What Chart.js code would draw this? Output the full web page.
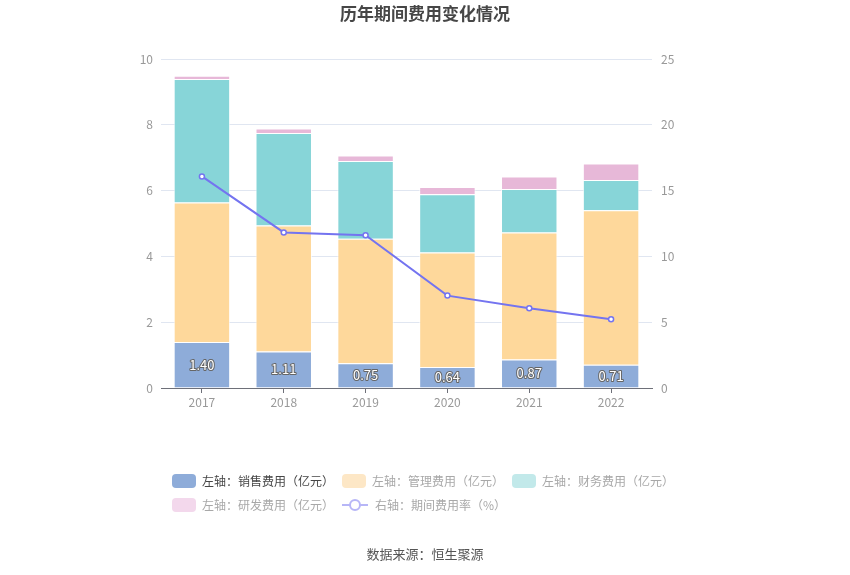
<!DOCTYPE html>
<html>
<head>
<meta charset="utf-8">
<script src="https://cdn.jsdelivr.net/npm/chart.js@4/dist/chart.umd.min.js"></script>
<style>
  html, body { margin: 0; padding: 0; background: #fff; }
  #wrap { position: relative; width: 850px; height: 575px; font-family: "Noto Sans CJK SC", "Noto Sans", sans-serif; }
  #c { position: absolute; left: 0; top: 0; }
  .title { position: absolute; left: 0; width: 850px; top: 0px; text-align: center; font-size: 17px; font-weight: bold; color: #464646; }
  .source { position: absolute; left: 0; width: 850px; top: 544px; text-align: center; font-size: 13px; color: #555; }
  .lg { position: absolute; font-size: 12px; line-height: 16px; white-space: nowrap; }
  .sw { position: absolute; width: 24px; height: 14px; border-radius: 4px; }
</style>
</head>
<body>
<div id="wrap">
  <canvas id="c" width="850" height="575"></canvas>
  <div class="title">历年期间费用变化情况</div>
  <div id="legend"></div>
  <div class="source">数据来源：恒生聚源</div>
</div>
<script>
const years = ['2017', '2018', '2019', '2020', '2021', '2022'];
const salesExp = [1.40, 1.11, 0.75, 0.64, 0.87, 0.71];
const adminExp = [4.24, 3.83, 3.79, 3.48, 3.86, 4.69];
const financeExp = [3.75, 2.81, 2.36, 1.77, 1.32, 0.92];
const rdExp = [0.10, 0.14, 0.17, 0.22, 0.38, 0.50];
const expenseRate = [16.08, 11.82, 11.61, 7.02, 6.06, 5.22];
const leftTicks = [0, 2, 4, 6, 8, 10];
const rightTicks = [0, 5, 10, 15, 20, 25];

const seriesNames = ['左轴：销售费用（亿元）', '左轴：管理费用（亿元）', '左轴：财务费用（亿元）', '左轴：研发费用（亿元）', '右轴：期间费用率（%）'];

// HTML legend
const legendItems = [
  { x: 172, y: 474, sw: '#8eacd9', text: seriesNames[0], tc: '#464646' },
  { x: 342, y: 474, sw: '#fde7c6', text: seriesNames[1], tc: '#a8a8a8' },
  { x: 512, y: 474, sw: '#c2e9ea', text: seriesNames[2], tc: '#a8a8a8' },
  { x: 172, y: 498, sw: '#f3d8ec', text: seriesNames[3], tc: '#a8a8a8' },
  { x: 342, y: 498, line: '#b7b6f7', text: seriesNames[4], tc: '#a8a8a8' }
];
const lg = document.getElementById('legend');
legendItems.forEach(it => {
  if (it.line) {
    const svg = document.createElementNS('http://www.w3.org/2000/svg', 'svg');
    svg.setAttribute('width', '26'); svg.setAttribute('height', '14');
    svg.style.position = 'absolute'; svg.style.left = it.x + 'px'; svg.style.top = it.y + 'px';
    svg.innerHTML = '<line x1="0" y1="7" x2="26" y2="7" stroke="' + it.line + '" stroke-width="2"/><circle cx="13" cy="7" r="5" fill="#fff" stroke="' + it.line + '" stroke-width="2"/>';
    lg.appendChild(svg);
  } else {
    const s = document.createElement('div');
    s.className = 'sw'; s.style.left = it.x + 'px'; s.style.top = it.y + 'px'; s.style.background = it.sw;
    lg.appendChild(s);
  }
  const t = document.createElement('div');
  t.className = 'lg'; t.style.left = (it.x + (it.line ? 33 : 30)) + 'px'; t.style.top = (it.y - 1) + 'px'; t.style.color = it.tc;
  t.textContent = it.text;
  lg.appendChild(t);
});

const labelPlugin = {
  id: 'barLabels',
  afterDatasetsDraw(chart) {
    const ctx = chart.ctx;
    const meta = chart.getDatasetMeta(1);
    ctx.save();
    ctx.font = '13px "Noto Sans CJK SC", sans-serif';
    ctx.textAlign = 'center';
    ctx.textBaseline = 'middle';
    ctx.lineJoin = 'round';
    meta.data.forEach((bar, i) => {
      const txt = salesExp[i].toFixed(2);
      const y = (bar.y + bar.base) / 2;
      ctx.lineWidth = 2;
      ctx.strokeStyle = '#666';
      ctx.strokeText(txt, bar.x, y);
      ctx.fillStyle = '#fff';
      ctx.fillText(txt, bar.x, y);
    });
    ctx.restore();
  }
};

const barCommon = { stack: 's', yAxisID: 'y', borderColor: 'rgba(255,255,255,0.7)', borderWidth: 1, barPercentage: 0.69, categoryPercentage: 1, order: 2 };

new Chart(document.getElementById('c'), {
  data: {
    labels: years,
    datasets: [
      { type: 'line', label: seriesNames[4], data: expenseRate, yAxisID: 'y1', borderColor: '#7474f0', backgroundColor: '#fff',
        borderWidth: 2, pointRadius: 2.5, pointBorderWidth: 1.5, pointBackgroundColor: '#fff', pointBorderColor: '#7474f0', tension: 0, order: 0 },
      Object.assign({ type: 'bar', label: seriesNames[0], data: salesExp, backgroundColor: '#8eacd9' }, barCommon),
      Object.assign({ type: 'bar', label: seriesNames[1], data: adminExp, backgroundColor: '#fed89b' }, barCommon),
      Object.assign({ type: 'bar', label: seriesNames[2], data: financeExp, backgroundColor: '#87d5d8' }, barCommon),
      Object.assign({ type: 'bar', label: seriesNames[3], data: rdExp, backgroundColor: '#e7b8d8' }, barCommon)
    ]
  },
  options: {
    responsive: false,
    animation: false,
    layout: { padding: { top: 59, left: 0, right: 0, bottom: 0 } },
    plugins: { legend: { display: false }, title: { display: false }, tooltip: { enabled: false } },
    scales: {
      x: {
        stacked: true,
        afterFit(s) { s.height = 187; },
        grid: { offset: false, drawOnChartArea: false, tickLength: 5, color: '#6e7079' },
        border: { color: '#6e7079', width: 1 },
        ticks: { color: '#999', font: { size: 12, family: '"Noto Sans CJK SC", sans-serif' }, padding: 2 }
      },
      y: {
        position: 'left', stacked: true, min: 0, max: 10,
        afterFit(s) { s.width = 161; },
        afterBuildTicks(s) { s.ticks = leftTicks.map(v => ({ value: v })); },
        grid: { color: '#e0e6f1', drawTicks: false },
        border: { display: false },
        ticks: { color: '#999', padding: 8, font: { size: 12, family: '"Noto Sans CJK SC", sans-serif' } }
      },
      y1: {
        position: 'right', min: 0, max: 25,
        afterFit(s) { s.width = 198; },
        afterBuildTicks(s) { s.ticks = rightTicks.map(v => ({ value: v })); },
        grid: { drawOnChartArea: false, drawTicks: false },
        border: { display: false },
        ticks: { color: '#999', padding: 9, font: { size: 12, family: '"Noto Sans CJK SC", sans-serif' } }
      }
    }
  },
  plugins: [labelPlugin]
});
</script>
</body>
</html>
